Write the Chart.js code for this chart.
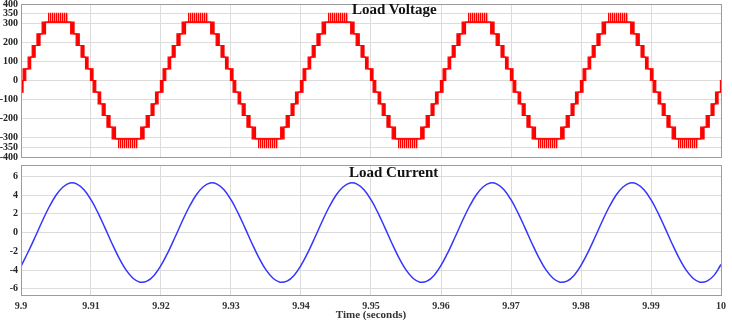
<!DOCTYPE html>
<html>
<head>
<meta charset="utf-8">
<script src="https://cdn.jsdelivr.net/npm/chart.js@4.4.1/dist/chart.umd.min.js"></script>
<style>
  html, body { margin: 0; padding: 0; background: #fff; }
  #wrap { position: relative; width: 732px; height: 322px; overflow: hidden; }
  #vChart { position: absolute; left: 0; top: 0; }
  #iChart { position: absolute; left: 0; top: 160px; }
  .ttl { position: absolute; font: bold 15px "Liberation Serif", serif; line-height: 15px; color: #111; white-space: nowrap; }
</style>
</head>
<body>
<div id="wrap">
  <canvas id="vChart" width="732" height="160"></canvas>
  <canvas id="iChart" width="732" height="162"></canvas>
  <div class="ttl" style="left:352px; top:2px;">Load Voltage</div>
  <div class="ttl" style="left:349px; top:165px;">Load Current</div>
</div>
<script>
// ---- axes ----
const xTicks = [9.9, 9.91, 9.92, 9.93, 9.94, 9.95, 9.96, 9.97, 9.98, 9.99, 10];
const xTickLabels = ['9.9', '9.91', '9.92', '9.93', '9.94', '9.95', '9.96', '9.97', '9.98', '9.99', '10'];
const voltTicks = [400, 350, 300, 200, 100, 0, -100, -200, -300, -350, -400];
const currTicks = [6, 4, 2, 0, -2, -4, -6];

// ---- load voltage (staircase with switching bands) ----
// rising zero crossing of each cycle, seconds
const cycleStarts = [9.8803, 9.9003, 9.9203, 9.9403, 9.9603, 9.9803];
// switching bands inside one cycle, ms after the zero crossing
const bandStart  = [0.00, 0.72, 1.30, 1.98, 2.72, 6.80, 7.58, 8.28, 8.92, 9.62,
                    10.00, 10.72, 11.30, 11.98, 12.72, 16.80, 17.58, 18.28, 18.92, 19.62];
const bandEnd    = [0.38, 1.08, 1.72, 2.42, 3.20, 7.28, 8.02, 8.70, 9.28, 9.99,
                    10.38, 11.08, 11.72, 12.42, 13.20, 17.28, 18.02, 18.70, 19.28, 19.99];
const bandLow    = [0, 61, 122, 183, 244, 244, 183, 122, 61, 0,
                    -61, -122, -183, -244, -305, -305, -244, -183, -122, -61];
const bandHigh   = [61, 122, 183, 244, 305, 305, 244, 183, 122, 61,
                    0, -61, -122, -183, -244, -244, -183, -122, -61, 0];
const levelAfter = [61, 122, 183, 244, 305, 244, 183, 122, 61, 0,
                    -61, -122, -183, -244, -305, -244, -183, -122, -61, 0];
// chatter at the positive / negative peak, ms after the zero crossing
const peakStart = [3.55, 13.55];
const peakEnd   = [6.45, 16.45];
const peakLow   = [305, -354];
const peakHigh  = [354, -305];

// ---- load current (A), one sample per ms from 9.9 s ----
const currentStart = 9.9;
const currentStep = 0.001;
const current = [
  -3.6, -2.10, -0.50, 1.16, 2.70, 3.98, 4.86, 5.28, 5.17, 4.56,
  3.50, 2.10, 0.50, -1.16, -2.70, -3.98, -4.86, -5.28, -5.17, -4.56,
  -3.50, -2.10, -0.50, 1.16, 2.70, 3.98, 4.86, 5.28, 5.17, 4.56,
  3.50, 2.10, 0.50, -1.16, -2.70, -3.98, -4.86, -5.28, -5.17, -4.56,
  -3.50, -2.10, -0.50, 1.16, 2.70, 3.98, 4.86, 5.28, 5.17, 4.56,
  3.50, 2.10, 0.50, -1.16, -2.70, -3.98, -4.86, -5.28, -5.17, -4.56,
  -3.50, -2.10, -0.50, 1.16, 2.70, 3.98, 4.86, 5.28, 5.17, 4.56,
  3.50, 2.10, 0.50, -1.16, -2.70, -3.98, -4.86, -5.28, -5.17, -4.56,
  -3.50, -2.10, -0.50, 1.16, 2.70, 3.98, 4.86, 5.28, 5.17, 4.56,
  3.50, 2.10, 0.50, -1.16, -2.70, -3.98, -4.86, -5.28, -5.17, -4.56,
  -3.4
];

// build voltage envelopes
const upper = [], lower = [];
cycleStarts.forEach(c => {
  bandStart.forEach((s, i) => {
    upper.push({x: c + s / 1000, y: bandHigh[i]});
    lower.push({x: c + s / 1000, y: bandLow[i]});
    upper.push({x: c + bandEnd[i] / 1000, y: levelAfter[i]});
    lower.push({x: c + bandEnd[i] / 1000, y: levelAfter[i]});
  });
});
const peakUp = [], peakLo = [];
cycleStarts.forEach(c => {
  peakStart.forEach((s, i) => {
    const a = c + s / 1000, b = c + peakEnd[i] / 1000;
    peakUp.push({x: a, y: peakHigh[i]}, {x: b, y: peakHigh[i]}, {x: b + 1e-6, y: null});
    peakLo.push({x: a, y: peakLow[i]}, {x: b, y: peakLow[i]}, {x: b + 1e-6, y: null});
  });
});
const currentPts = current.map((v, i) => ({x: currentStart + i * currentStep, y: v}));

// stripes for the peak switching
const stripe = document.createElement('canvas');
stripe.width = 2; stripe.height = 1;
const sctx = stripe.getContext('2d');
sctx.fillStyle = '#ff0000'; sctx.fillRect(0, 0, 1, 1);
sctx.fillStyle = '#ff9a9a'; sctx.fillRect(1, 0, 1, 1);
const stripes = sctx.createPattern(stripe, 'repeat');

const GRID = '#dcdcdc';
const FRAME = '#9c9c9c';
const tickFont = {family: 'Liberation Serif', weight: 'bold', size: 10};

const frame = {
  id: 'frame',
  afterDraw(chart) {
    const a = chart.chartArea, ctx = chart.ctx;
    ctx.save();
    ctx.strokeStyle = FRAME;
    ctx.lineWidth = 1;
    ctx.strokeRect(Math.round(a.left) + 0.5, Math.round(a.top) + 0.5,
      Math.round(a.right - a.left), Math.round(a.bottom - a.top));
    ctx.restore();
  }
};

function yAxis(ticksArr, min, max) {
  return {
    type: 'linear', min: min, max: max,
    afterBuildTicks: s => { s.ticks = ticksArr.map(v => ({value: v})); },
    afterFit: s => { s.width = 21; s.paddingTop = 0; s.paddingBottom = 0; },
    grid: {color: GRID, drawTicks: false},
    border: {color: FRAME},
    ticks: {font: tickFont, color: '#222', padding: 3, autoSkip: false}
  };
}

function xAxis(showLabels) {
  return {
    type: 'linear', min: 9.9, max: 10,
    afterBuildTicks: s => { s.ticks = xTicks.map(v => ({value: v})); },
    afterFit: s => { s.height = showLabels ? 27 : 0; s.paddingLeft = 0; s.paddingRight = 0; },
    grid: {color: GRID, drawTicks: false},
    border: {color: FRAME},
    ticks: {display: showLabels, font: tickFont, color: '#333', padding: 5, autoSkip: false, maxRotation: 0,
      callback: (v, i) => xTickLabels[i]},
    title: {display: showLabels, text: 'Time (seconds)', color: '#333', padding: 0,
      font: {family: 'Liberation Serif', weight: 'bold', size: 11}}
  };
}

new Chart(document.getElementById('vChart'), {
  type: 'line',
  data: {
    datasets: [
      {data: upper, stepped: true, borderColor: '#ff0000', borderWidth: 1.2, pointRadius: 0, fill: false},
      {data: lower, stepped: true, borderColor: '#ff0000', borderWidth: 1.2, pointRadius: 0,
        fill: '-1', backgroundColor: '#ff0000'},
      {data: peakUp, stepped: true, borderWidth: 0, borderColor: 'rgba(0,0,0,0)', pointRadius: 0, fill: false},
      {data: peakLo, stepped: true, borderWidth: 0, borderColor: 'rgba(0,0,0,0)', pointRadius: 0,
        fill: '-1', backgroundColor: stripes}
    ]
  },
  options: {
    responsive: false, animation: false,
    layout: {padding: {top: 4, bottom: 3, left: 0, right: 11}},
    plugins: {legend: {display: false}, tooltip: {enabled: false}},
    scales: {x: xAxis(false), y: yAxis(voltTicks, -400, 400)}
  },
  plugins: [frame]
});

new Chart(document.getElementById('iChart'), {
  type: 'line',
  data: {
    datasets: [
      {data: currentPts, borderColor: '#3535ff', borderWidth: 1.5, pointRadius: 0, tension: 0.4, fill: false}
    ]
  },
  options: {
    responsive: false, animation: false,
    layout: {padding: {top: 5, bottom: 0, left: 0, right: 11}},
    plugins: {legend: {display: false}, tooltip: {enabled: false}},
    scales: {x: xAxis(true), y: yAxis(currTicks, -6.65, 7.2)}
  },
  plugins: [frame]
});
</script>
</body>
</html>
